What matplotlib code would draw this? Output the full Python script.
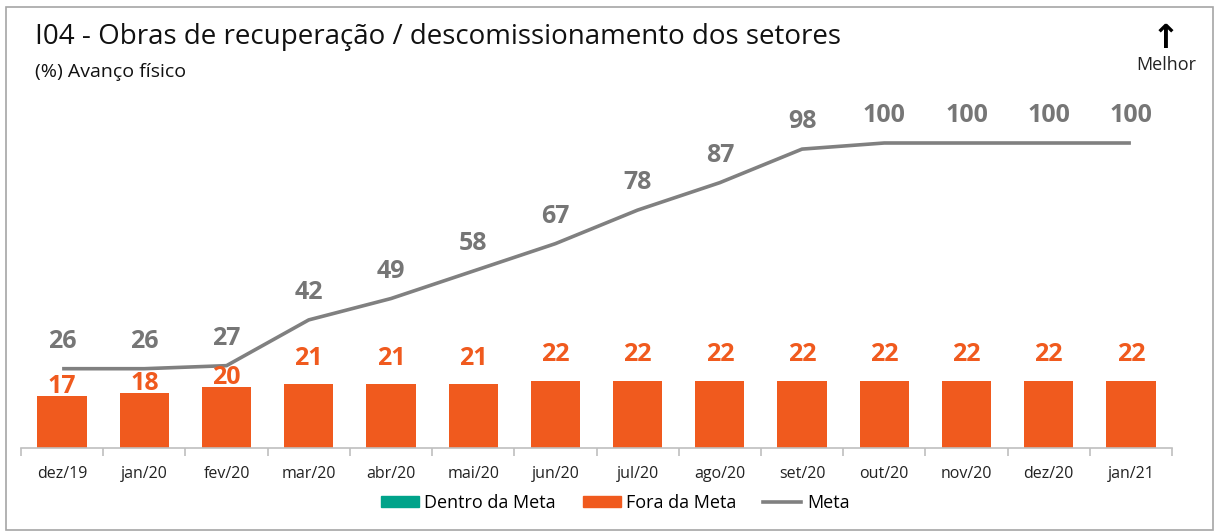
import numpy as np
import matplotlib.pyplot as plt
from matplotlib.patches import Rectangle, Patch
from matplotlib.lines import Line2D

plt.rcParams['font.family'] = ['Open Sans', 'DejaVu Sans']

meses = ["dez/19", "jan/20", "fev/20", "mar/20", "abr/20", "mai/20", "jun/20",
         "jul/20", "ago/20", "set/20", "out/20", "nov/20", "dez/20", "jan/21"]
realizado = [17, 18, 20, 21, 21, 21, 22, 22, 22, 22, 22, 22, 22, 22]
meta = [26, 26, 27, 42, 49, 58, 67, 78, 87, 98, 100, 100, 100, 100]

laranja = "#F05A1E"
cinza = "#808080"
verde = "#00A38A"

W, H = 1218, 531
fig = plt.figure(figsize=(W / 100, H / 100), dpi=100)

# moldura cinza
fig.patches.append(Rectangle((6 / W, 1 - 530 / H), 1207 / W, 523 / H,
                             transform=fig.transFigure, fill=False,
                             edgecolor="#A6A6A6", lw=1.2))

ax = fig.add_axes([21 / W, 83 / H, 1151 / W, 366 / H])
x = np.arange(len(meses))

ax.bar(x, realizado, width=0.6, color=laranja)
ax.plot(x, meta, color=cinza, lw=2.6, solid_capstyle="butt")

for i in x:
    # os três primeiros rótulos ficam colados na barra (linha da meta próxima)
    dy = 2.5 if i < 3 else 14
    ax.annotate(str(realizado[i]), (i, realizado[i]), xytext=(0, dy),
                textcoords="offset points", ha="center", va="baseline",
                fontsize=18, fontweight="bold", color=laranja)
    ax.annotate(str(meta[i]), (i, meta[i]), xytext=(0, 15),
                textcoords="offset points", ha="center", va="baseline",
                fontsize=18, fontweight="bold", color="#767676")

ax.set_xlim(-0.5, len(meses) - 0.5)
ax.set_ylim(0, 120)
ax.set_yticks([])
for s in ["top", "right", "left"]:
    ax.spines[s].set_visible(False)
ax.spines["bottom"].set_color("#BFBFBF")
ax.spines["bottom"].set_linewidth(1.2)

ax.set_xticks(x)
ax.set_xticklabels(meses, fontsize=11.5, color="#222222")
ax.tick_params(axis="x", length=0, pad=13)
ax.set_xticks(np.arange(-0.5, len(meses)), minor=True)
ax.tick_params(axis="x", which="minor", length=6, color="#BFBFBF", width=1.2)

fig.text(35 / W, 1 - 37 / H, "I04 - Obras de recuperação / descomissionamento dos setores",
         fontsize=20, va="center", ha="left", color="#111111")
fig.text(35 / W, 1 - 72 / H, "(%) Avanço físico", fontsize=14, va="center",
         ha="left", color="#111111")
fig.text(1166 / W, 1 - 38 / H, "↑", fontsize=24, fontweight="bold", va="center",
         ha="center", family=["DejaVu Sans"])
fig.text(1166 / W, 1 - 65 / H, "Melhor", fontsize=13, va="center", ha="center",
         color="#222222")

handles = [Patch(color=verde, label="Dentro da Meta"),
           Patch(color=laranja, label="Fora da Meta"),
           Line2D([], [], color=cinza, lw=2.6, label="Meta")]
fig.legend(handles=handles, loc="center", bbox_to_anchor=(615 / W, 1 - 503 / H),
           ncol=3, frameon=False, fontsize=13, handlelength=2.1, handleheight=0.6,
           columnspacing=1.5, handletextpad=0.3)

fig.savefig("out.png", dpi=100)
